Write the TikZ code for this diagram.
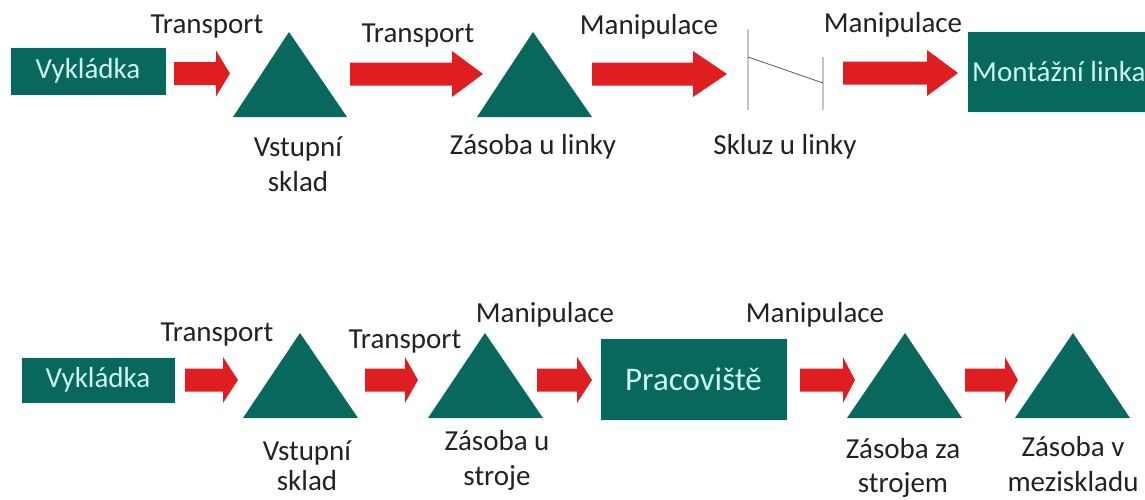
\documentclass[tikz,border=0pt]{standalone}
\usepackage{fontspec}
\setmainfont{Carlito}
\definecolor{teal}{RGB}{8,104,94}
\definecolor{boxtext}{RGB}{205,246,240}
\definecolor{arrowred}{RGB}{222,30,32}
\definecolor{labeltext}{RGB}{34,34,34}
\definecolor{sluice}{RGB}{90,90,90}

% block arrow: #1 shaft start, #2 head start, #3 tip, #4 centre line
\newcommand{\redarrow}[4]{%
  \fill[arrowred] (#1,#4-11.5) -- (#2,#4-11.5) -- (#2,#4-23) -- (#3,#4)
    -- (#2,#4+23) -- (#2,#4+11.5) -- (#1,#4+11.5) -- cycle;}

\tikzset{
  stepbox/.style={fill=teal, draw=boxtext!60, line width=0.6pt, inner sep=0pt,
    text=boxtext, font=\fontsize{29}{31}\selectfont},
  lbl/.style={text=labeltext, inner sep=0pt, align=center,
    font=\fontsize{29}{35}\selectfont},
  stock/.style={fill=teal}
}

\begin{document}
\begin{tikzpicture}[x=1pt, y=-1pt]
\useasboundingbox (0,0) rectangle (1145,499);
\clip (0,0) rectangle (1145,499);
\fill[white] (0,0) rectangle (1145,499);

% ---------- upper flow: unloading to assembly line ----------
\node[stepbox, minimum width=156pt, minimum height=48pt] (vyk1) at (88,71) {Vykládka};
\node[lbl] (t1) at (207,27) {Transport};
\redarrow{174}{216}{230}{73.5}
\coordinate (s1a) at (289,32); \coordinate (s1b) at (347,117); \coordinate (s1c) at (233,117);
\fill[stock] (s1a) -- (s1b) -- (s1c) -- cycle;
\node[lbl] (l1) at (298,164) {Vstupní\\sklad};

\node[lbl] (t2) at (418,36) {Transport};
\redarrow{350}{452}{483}{74}
\coordinate (s2a) at (533,32); \coordinate (s2b) at (592,117); \coordinate (s2c) at (477,117);
\fill[stock] (s2a) -- (s2b) -- (s2c) -- cycle;
\node[lbl] (l2) at (533,147) {Zásoba u linky};

\node[lbl] (m1) at (649,27) {Manipulace};
\redarrow{592}{693}{727}{74}

% chute at the line
\coordinate (c1t) at (748,29); \coordinate (c1b) at (748,110);
\coordinate (c2t) at (823,57); \coordinate (c2b) at (823,110);
\coordinate (c1m) at (748,57); \coordinate (c2m) at (823,83);
\draw[sluice, line width=0.8pt] (c1t) -- (c1b) (c2t) -- (c2b) (c1m) -- (c2m);
\node[lbl] (l3) at (785,147) {Skluz u linky};

\node[lbl] (m2) at (893,25) {Manipulace};
\redarrow{843}{927}{958}{73}
\node[stepbox, minimum width=190pt, minimum height=81pt, anchor=west] (mont) at (967,71.5) {};
\node[text=boxtext, inner sep=0pt, anchor=west, font=\fontsize{29}{31}\selectfont] (montt) at (972,72) {Montážní linka};

% ---------- lower flow: unloading to intermediate store ----------
\node[stepbox, minimum width=154pt, minimum height=46pt] (vyk2) at (98,380) {Vykládka};
\node[lbl] (t3) at (217,335) {Transport};
\redarrow{185}{223}{238}{380}
\coordinate (s3a) at (300,333); \coordinate (s3b) at (358,418); \coordinate (s3c) at (243,418);
\fill[stock] (s3a) -- (s3b) -- (s3c) -- cycle;
\node[lbl] (l4) at (307,466) {Vstupní\\[-5pt]sklad};

\node[lbl] (t4) at (405,342) {Transport};
\redarrow{365}{405}{418}{380}
\coordinate (s4a) at (485,333); \coordinate (s4b) at (543,418); \coordinate (s4c) at (428,418);
\fill[stock] (s4a) -- (s4b) -- (s4c) -- cycle;
\node[lbl] (l5) at (497,460) {Zásoba u\\stroje};

\node[lbl] (m3) at (545,315) {Manipulace};
\redarrow{537}{577}{592}{380}
\node[stepbox, minimum width=187pt, minimum height=82pt, font=\fontsize{33}{35}\selectfont] (prac) at (693.5,379) {Pracoviště};

\node[lbl] (m4) at (815,315) {Manipulace};
\redarrow{800}{843}{855}{380}
\coordinate (s5a) at (905,333); \coordinate (s5b) at (962,418); \coordinate (s5c) at (847,418);
\fill[stock] (s5a) -- (s5b) -- (s5c) -- cycle;
\node[lbl] (l6) at (903,468) {Zásoba za\\[-1pt]strojem};

\redarrow{965}{1005}{1018}{380}
\coordinate (s6a) at (1073,333); \coordinate (s6b) at (1130,418); \coordinate (s6c) at (1015,418);
\fill[stock] (s6a) -- (s6b) -- (s6c) -- cycle;
\node[lbl] (l7) at (1073,464.5) {Zásoba v\\meziskladu};
\end{tikzpicture}
\end{document}
